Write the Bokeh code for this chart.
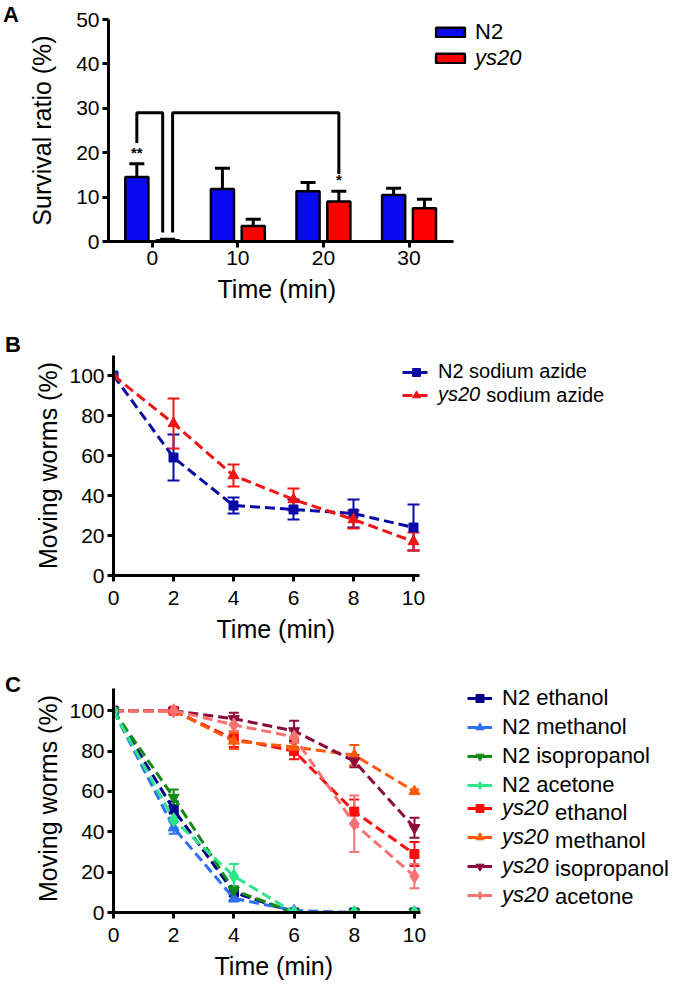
from bokeh.plotting import figure
from bokeh.layouts import column, row
from bokeh.models import (ColumnDataSource, Whisker, TeeHead, Legend, LegendItem,
                          Label, FixedTicker, Range1d, Title, Div)
from bokeh.core.properties import value
from bokeh.embed import file_html
from bokeh.resources import INLINE

FONT = "Liberation Sans"
TICK_FS = "21px"
TITLE_FS = "25px"

# ---------------- Panel A data ----------------
a_times = ["0", "10", "20", "30"]
a_n2_mean = [14.5, 11.8, 11.3, 10.5]
a_n2_err = [3.0, 4.7, 2.0, 1.5]
a_ys20_mean = [0.3, 3.5, 9.0, 7.5]
a_ys20_err = [0.2, 1.5, 2.3, 2.0]
a_n2_sig = ["**", "", "", ""]
a_ys20_sig = ["", "", "*", ""]

# ---------------- Panel B data ----------------
b_time = [0, 2, 4, 6, 8, 10]
b_n2 = [100, 59, 35, 33, 31, 24]
b_n2_err = [0, 11.5, 4, 5, 7, 11.5]
b_ys20 = [100, 76, 50, 38, 28, 17]
b_ys20_err = [0, 12.5, 5.5, 5.5, 4.5, 4.5]

# ---------------- Panel C data ----------------
c_time = [0, 2, 4, 6, 8, 10]
c_n2_ethanol = [100, 51, 10, 0, 0, 0]
c_n2_ethanol_err = [0, 4, 2, 0, 0, 0]
c_n2_methanol = [100, 42, 7, 1, 0, 0]
c_n2_methanol_err = [0, 3, 1.5, 0.5, 0, 0]
c_n2_isopropanol = [100, 57, 11, 0, 0, 0]
c_n2_isopropanol_err = [0, 4, 2, 0, 0, 0]
c_n2_acetone = [100, 46, 18, 0, 0, 0]
c_n2_acetone_err = [0, 4, 6, 0, 0, 0]
c_ys20_ethanol = [100, 100, 86, 80, 50, 29]
c_ys20_ethanol_err = [0, 0, 4, 4, 6, 6]
c_ys20_methanol = [100, 100, 85, 82, 78, 60]
c_ys20_methanol_err = [0, 0, 4, 4, 5, 1]
c_ys20_isopropanol = [100, 100, 96, 90, 75, 42]
c_ys20_isopropanol_err = [0, 0, 3, 5, 3, 5]
c_ys20_acetone = [100, 100, 93, 87, 44, 18]
c_ys20_acetone_err = [0, 0, 3, 3, 14, 6]
c_solvents = ["ethanol", "methanol", "isopropanol", "acetone"]


def style(p, xticks, yticks, xbounds, ybounds, ylabel, xlabel_std, ylabel_std, xoverrides=None):
    p.grid.visible = False
    p.outline_line_color = None
    for ax in (p.xaxis[0], p.yaxis[0]):
        ax.axis_line_width = 3
        ax.axis_line_color = "black"
        ax.major_tick_line_width = 3
        ax.major_tick_line_color = "black"
        ax.major_tick_out = 6
        ax.major_tick_in = 0
        ax.minor_tick_line_color = None
        ax.major_label_text_font = FONT
        ax.major_label_text_font_size = TICK_FS
        ax.major_label_text_color = "black"
        ax.major_label_standoff = 3
        ax.axis_label_text_font = FONT
        ax.axis_label_text_font_size = TITLE_FS
        ax.axis_label_text_font_style = "normal"
        ax.axis_label_text_color = "black"
    p.xaxis[0].major_label_standoff = xlabel_std
    p.yaxis[0].axis_label_standoff = ylabel_std
    p.xaxis[0].ticker = FixedTicker(ticks=xticks)
    p.yaxis[0].ticker = FixedTicker(ticks=yticks)
    p.xaxis[0].bounds = xbounds
    p.yaxis[0].bounds = ybounds
    p.yaxis[0].axis_label = ylabel
    if xoverrides:
        p.xaxis[0].major_label_overrides = xoverrides


def add_xtitle(p, text, offset, standoff):
    p.add_layout(Title(text=text, align="left", offset=offset, standoff=standoff,
                       text_font=FONT, text_font_size=TITLE_FS, text_font_style="normal",
                       text_color="black"), "below")


def add_err(p, x, y, err, color, head, lw=2, upper_only=False):
    xs, lo, hi = [], [], []
    for xi, yi, ei in zip(x, y, err):
        if ei > 0:
            xs.append(xi)
            lo.append(yi if upper_only else yi - ei)
            hi.append(yi + ei)
    src = ColumnDataSource(dict(base=xs, lower=lo, upper=hi))
    w = Whisker(source=src, base="base", lower="lower", upper="upper",
                line_color=color, line_width=lw,
                upper_head=TeeHead(size=head, line_color=color, line_width=lw),
                lower_head=None if upper_only else TeeHead(size=head, line_color=color, line_width=lw))
    p.add_layout(w)


def make_legend(items, loc, fs, item_h, italic=False, glyph_w=25, glyph_h=20, standoff=10, spacing=3):
    return Legend(items=items, location=loc, background_fill_alpha=0,
                  border_line_color=None, padding=0, margin=0, spacing=spacing,
                  glyph_width=glyph_w, glyph_height=glyph_h, label_standoff=standoff,
                  label_height=item_h, label_text_font=FONT, label_text_font_size=fs,
                  label_text_font_style="italic" if italic else "normal",
                  label_text_color="black")


def letter_div(txt, height, pad_top, pad_left):
    html = (f'<div style="font-family: \'{FONT}\'; font-weight: bold; font-size: 22px; '
            f'line-height: 22px; padding-top: {pad_top}px; padding-left: {pad_left}px;">{txt}</div>')
    return Div(text=html, width=22, height=height, margin=(0, 0, 0, 0))


DIV_W = 22
W = 677 - DIV_W

# ================= Panel A =================
HA = 330
pA = figure(width=W, height=HA, x_range=Range1d(-0.511, 6.136), y_range=Range1d(0, 50),
            output_backend="svg", toolbar_location=None,
            min_border_left=108 - DIV_W, min_border_right=0, min_border_top=19, min_border_bottom=89)
idx = list(range(len(a_times)))
off, bw = 0.18, 0.27
n2_x = [i - off for i in idx]
ys_x = [i + off for i in idx]
rn2 = pA.vbar(x=n2_x, top=a_n2_mean, width=bw, fill_color="#0a0af0", line_color="black", line_width=2.5)
rys = pA.vbar(x=ys_x, top=a_ys20_mean, width=bw, fill_color="#ff0000", line_color="black", line_width=2.5)
add_err(pA, n2_x, a_n2_mean, a_n2_err, "black", 15, lw=3, upper_only=True)
add_err(pA, ys_x, a_ys20_mean, a_ys20_err, "black", 15, lw=3, upper_only=True)

for xs_, m, e, s in list(zip(n2_x, a_n2_mean, a_n2_err, a_n2_sig)) + list(zip(ys_x, a_ys20_mean, a_ys20_err, a_ys20_sig)):
    if s:
        pA.text(x=[xs_], y=[m + e + 0.7], text=[s], text_font=value(FONT), text_font_size="15px",
                text_font_style="bold", text_align="center", text_baseline="bottom", text_color="black")

sig_top = 29
gap = 0.058
b1_left_bottom = a_n2_mean[0] + a_n2_err[0] + 4.7
b1_right_bottom = a_ys20_mean[0] + a_ys20_err[0] + 1.5
b2_right_bottom = a_ys20_mean[2] + a_ys20_err[2] + 3.9
pA.line(x=[n2_x[0], n2_x[0], ys_x[0] - gap, ys_x[0] - gap],
        y=[b1_left_bottom, sig_top, sig_top, b1_right_bottom], line_color="black", line_width=3)
pA.line(x=[ys_x[0] + gap, ys_x[0] + gap, ys_x[2], ys_x[2]],
        y=[b1_right_bottom, sig_top, sig_top, b2_right_bottom], line_color="black", line_width=3)

style(pA, idx, [0, 10, 20, 30, 40, 50], (-0.511, 3.52), (0, 50), "Survival ratio (%)", 3, 17,
      {i: t for i, t in zip(idx, a_times)})
add_xtitle(pA, "Time (min)", 109, 10)

pA.add_layout(make_legend([LegendItem(label="N2", renderers=[rn2])], (324, 196), "22px", 25,
                          glyph_w=36, glyph_h=12, standoff=7))
pA.add_layout(make_legend([LegendItem(label="ys20", renderers=[rys])], (324, 170), "22px", 25,
                          italic=True, glyph_w=36, glyph_h=12, standoff=7))

# ================= Panel B =================
HB = 320
pB = figure(width=W, height=HB, x_range=Range1d(0, 18.8), y_range=Range1d(0, 110),
            output_backend="svg", toolbar_location=None,
            min_border_left=113 - DIV_W, min_border_right=0, min_border_top=25, min_border_bottom=75)
B_BLUE = "#0a0aa5"
B_RED = "#f01414"
lb1 = pB.line(b_time, b_n2, line_color=B_BLUE, line_width=3, line_dash="10 5")
sb1 = pB.scatter(b_time, b_n2, marker="square", size=9, color=B_BLUE)
add_err(pB, b_time, b_n2, b_n2_err, B_BLUE, 12)
lb2 = pB.line(b_time, b_ys20, line_color=B_RED, line_width=3, line_dash="10 5")
sb2 = pB.scatter(b_time, b_ys20, marker="triangle", size=11, color=B_RED)
add_err(pB, b_time, b_ys20, b_ys20_err, B_RED, 12)
style(pB, b_time, [0, 20, 40, 60, 80, 100], (0, 10.2), (0, 110), "Moving worms (%)", 9, 4)
add_xtitle(pB, "Time (min)", 103, 10)
B_LX = 289
pB.add_layout(make_legend([LegendItem(label="N2 sodium azide", renderers=[lb1, sb1])], (B_LX, 192),
                          "20px", 23, glyph_w=28, standoff=8))
pB.add_layout(make_legend([LegendItem(label="ys20", renderers=[lb2, sb2])], (B_LX, 169),
                          "20px", 23, italic=True, glyph_w=28, standoff=8))
pB.add_layout(Label(x=B_LX + 28 + 8 + 47.8, y=169 + 11.5, x_units="screen", y_units="screen",
                    text="sodium azide", text_font=FONT, text_font_size="20px",
                    text_baseline="middle", text_color="black"))

# ================= Panel C =================
HC = 336
C_FRAME_H = 228
pC = figure(width=W, height=HC, x_range=Range1d(0, 18.74), y_range=Range1d(0, 113),
            output_backend="svg", toolbar_location=None,
            min_border_left=113 - DIV_W, min_border_right=0, min_border_top=34,
            min_border_bottom=HC - 34 - C_FRAME_H)
n2_series = [
    (c_n2_ethanol, c_n2_ethanol_err, "#00008c", "square", 9),
    (c_n2_methanol, c_n2_methanol_err, "#2f6ff0", "triangle", 11),
    (c_n2_isopropanol, c_n2_isopropanol_err, "#138a13", "inverted_triangle", 11),
    (c_n2_acetone, c_n2_acetone_err, "#2ee68a", "diamond", 14),
]
ys_series = [
    (c_ys20_ethanol, c_ys20_ethanol_err, "#ff0a0a", "square", 9),
    (c_ys20_methanol, c_ys20_methanol_err, "#ff5a0a", "triangle", 11),
    (c_ys20_isopropanol, c_ys20_isopropanol_err, "#8c0a3c", "inverted_triangle", 11),
    (c_ys20_acetone, c_ys20_acetone_err, "#f87272", "diamond", 14),
]
n2_items, ys_items = [], []
for series, items, prefix in ((ys_series, ys_items, "ys20"), (n2_series, n2_items, "N2")):
    for (vals, errs, col, mk, sz), name in zip(series, c_solvents):
        l = pC.line(c_time, vals, line_color=col, line_width=3, line_dash="10 5")
        s = pC.scatter(c_time, vals, marker=mk, size=sz, color=col)
        add_err(pC, c_time, vals, errs, col, 10)
        lbl = f"N2 {name}" if prefix == "N2" else "ys20"
        items.append(LegendItem(label=lbl, renderers=[l, s]))
style(pC, c_time, [0, 20, 40, 60, 80, 100], (0, 10.2), (0, 111), "Moving worms (%)", 9, 4)
add_xtitle(pC, "Time (min)", 101, 10)
LEG_X = 354
C_N2_VY = 114
C_YS_VY = 4
pC.add_layout(make_legend(n2_items, (LEG_X, C_N2_VY), "22px", 25))
pC.add_layout(make_legend(ys_items, (LEG_X, C_YS_VY), "22px", 25, italic=True))
for i, name in enumerate(c_solvents):
    pC.add_layout(Label(x=LEG_X + 25 + 10 + 52.6, y=C_YS_VY + 109 - 12.5 - 28 * i,
                        x_units="screen", y_units="screen", text=name, text_font=FONT,
                        text_font_size="22px", text_baseline="middle", text_color="black"))

layout = column(
    row(letter_div("A", HA, 4, 3), pA, spacing=0),
    row(letter_div("B", HB, 4, 5), pB, spacing=0),
    row(letter_div("C", HC, 24, 5), pC, spacing=0),
    spacing=0,
)
open("out.html", "w").write(file_html(layout, INLINE))
